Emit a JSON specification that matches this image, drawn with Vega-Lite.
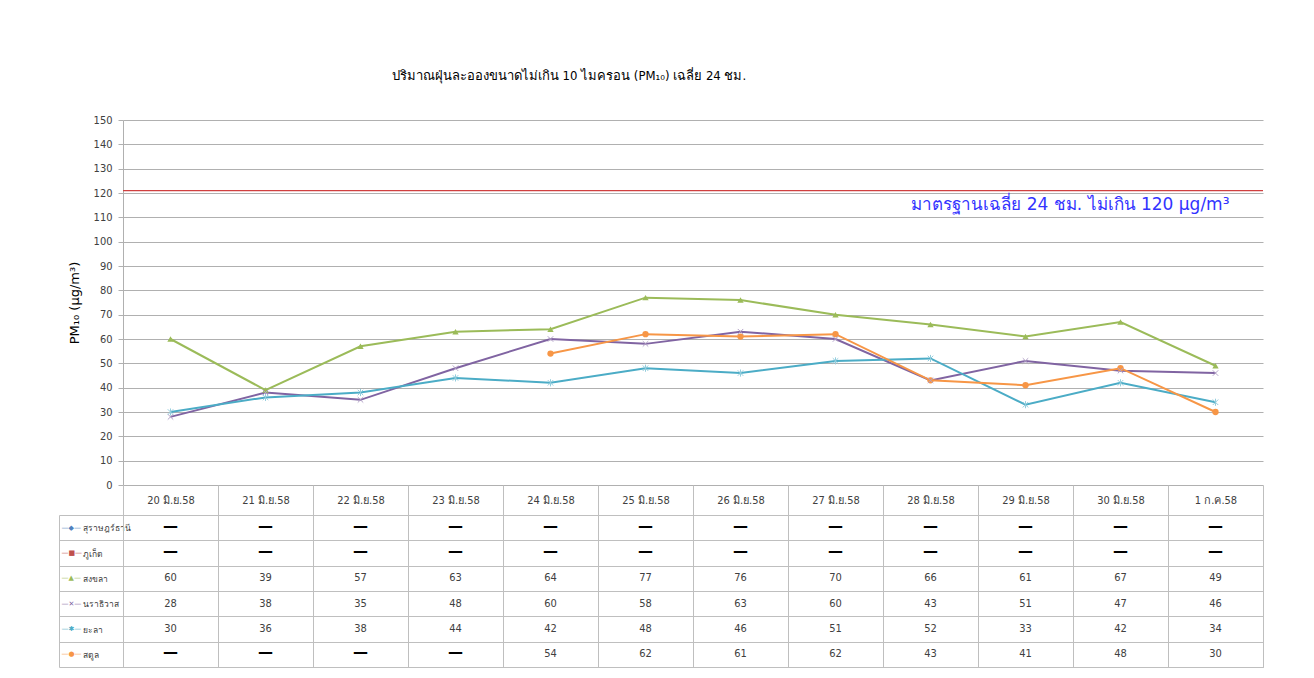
{
  "$schema": "https://vega.github.io/schema/vega-lite/v6.json",
  "background": "white",
  "padding": {"left": 58, "top": 70, "right": 52, "bottom": 8},
  "spacing": 30,
  "bounds": "flush",
  "title": {
    "text": "ปริมาณฝุ่นละอองขนาดไม่เกิน 10 ไมครอน (PM₁₀) เฉลี่ย 24 ชม.",
    "anchor": "middle",
    "dx": -92,
    "offset": 31,
    "fontSize": 13,
    "fontWeight": "normal",
    "color": "#000000",
    "font": "Liberation Sans Narrow, DejaVu Sans Condensed, sans-serif"
  },
  "datasets": {
    "pm": [
      {"s": "สุราษฎร์ธานี", "d": "20 มิ.ย.58", "v": null}, {"s": "สุราษฎร์ธานี", "d": "21 มิ.ย.58", "v": null}, {"s": "สุราษฎร์ธานี", "d": "22 มิ.ย.58", "v": null}, {"s": "สุราษฎร์ธานี", "d": "23 มิ.ย.58", "v": null}, {"s": "สุราษฎร์ธานี", "d": "24 มิ.ย.58", "v": null}, {"s": "สุราษฎร์ธานี", "d": "25 มิ.ย.58", "v": null}, {"s": "สุราษฎร์ธานี", "d": "26 มิ.ย.58", "v": null}, {"s": "สุราษฎร์ธานี", "d": "27 มิ.ย.58", "v": null}, {"s": "สุราษฎร์ธานี", "d": "28 มิ.ย.58", "v": null}, {"s": "สุราษฎร์ธานี", "d": "29 มิ.ย.58", "v": null}, {"s": "สุราษฎร์ธานี", "d": "30 มิ.ย.58", "v": null}, {"s": "สุราษฎร์ธานี", "d": "1 ก.ค.58", "v": null},
      {"s": "ภูเก็ต", "d": "20 มิ.ย.58", "v": null}, {"s": "ภูเก็ต", "d": "21 มิ.ย.58", "v": null}, {"s": "ภูเก็ต", "d": "22 มิ.ย.58", "v": null}, {"s": "ภูเก็ต", "d": "23 มิ.ย.58", "v": null}, {"s": "ภูเก็ต", "d": "24 มิ.ย.58", "v": null}, {"s": "ภูเก็ต", "d": "25 มิ.ย.58", "v": null}, {"s": "ภูเก็ต", "d": "26 มิ.ย.58", "v": null}, {"s": "ภูเก็ต", "d": "27 มิ.ย.58", "v": null}, {"s": "ภูเก็ต", "d": "28 มิ.ย.58", "v": null}, {"s": "ภูเก็ต", "d": "29 มิ.ย.58", "v": null}, {"s": "ภูเก็ต", "d": "30 มิ.ย.58", "v": null}, {"s": "ภูเก็ต", "d": "1 ก.ค.58", "v": null},
      {"s": "สงขลา", "d": "20 มิ.ย.58", "v": 60}, {"s": "สงขลา", "d": "21 มิ.ย.58", "v": 39}, {"s": "สงขลา", "d": "22 มิ.ย.58", "v": 57}, {"s": "สงขลา", "d": "23 มิ.ย.58", "v": 63}, {"s": "สงขลา", "d": "24 มิ.ย.58", "v": 64}, {"s": "สงขลา", "d": "25 มิ.ย.58", "v": 77}, {"s": "สงขลา", "d": "26 มิ.ย.58", "v": 76}, {"s": "สงขลา", "d": "27 มิ.ย.58", "v": 70}, {"s": "สงขลา", "d": "28 มิ.ย.58", "v": 66}, {"s": "สงขลา", "d": "29 มิ.ย.58", "v": 61}, {"s": "สงขลา", "d": "30 มิ.ย.58", "v": 67}, {"s": "สงขลา", "d": "1 ก.ค.58", "v": 49},
      {"s": "นราธิวาส", "d": "20 มิ.ย.58", "v": 28}, {"s": "นราธิวาส", "d": "21 มิ.ย.58", "v": 38}, {"s": "นราธิวาส", "d": "22 มิ.ย.58", "v": 35}, {"s": "นราธิวาส", "d": "23 มิ.ย.58", "v": 48}, {"s": "นราธิวาส", "d": "24 มิ.ย.58", "v": 60}, {"s": "นราธิวาส", "d": "25 มิ.ย.58", "v": 58}, {"s": "นราธิวาส", "d": "26 มิ.ย.58", "v": 63}, {"s": "นราธิวาส", "d": "27 มิ.ย.58", "v": 60}, {"s": "นราธิวาส", "d": "28 มิ.ย.58", "v": 43}, {"s": "นราธิวาส", "d": "29 มิ.ย.58", "v": 51}, {"s": "นราธิวาส", "d": "30 มิ.ย.58", "v": 47}, {"s": "นราธิวาส", "d": "1 ก.ค.58", "v": 46},
      {"s": "ยะลา", "d": "20 มิ.ย.58", "v": 30}, {"s": "ยะลา", "d": "21 มิ.ย.58", "v": 36}, {"s": "ยะลา", "d": "22 มิ.ย.58", "v": 38}, {"s": "ยะลา", "d": "23 มิ.ย.58", "v": 44}, {"s": "ยะลา", "d": "24 มิ.ย.58", "v": 42}, {"s": "ยะลา", "d": "25 มิ.ย.58", "v": 48}, {"s": "ยะลา", "d": "26 มิ.ย.58", "v": 46}, {"s": "ยะลา", "d": "27 มิ.ย.58", "v": 51}, {"s": "ยะลา", "d": "28 มิ.ย.58", "v": 52}, {"s": "ยะลา", "d": "29 มิ.ย.58", "v": 33}, {"s": "ยะลา", "d": "30 มิ.ย.58", "v": 42}, {"s": "ยะลา", "d": "1 ก.ค.58", "v": 34},
      {"s": "สตูล", "d": "20 มิ.ย.58", "v": null}, {"s": "สตูล", "d": "21 มิ.ย.58", "v": null}, {"s": "สตูล", "d": "22 มิ.ย.58", "v": null}, {"s": "สตูล", "d": "23 มิ.ย.58", "v": null}, {"s": "สตูล", "d": "24 มิ.ย.58", "v": 54}, {"s": "สตูล", "d": "25 มิ.ย.58", "v": 62}, {"s": "สตูล", "d": "26 มิ.ย.58", "v": 61}, {"s": "สตูล", "d": "27 มิ.ย.58", "v": 62}, {"s": "สตูล", "d": "28 มิ.ย.58", "v": 43}, {"s": "สตูล", "d": "29 มิ.ย.58", "v": 41}, {"s": "สตูล", "d": "30 มิ.ย.58", "v": 48}, {"s": "สตูล", "d": "1 ก.ค.58", "v": 30}
    ]
  },
  "config": {
    "font": "Liberation Sans Narrow, DejaVu Sans Condensed, sans-serif",
    "axis": {"labelColor": "#404040", "labelFontSize": 11, "labelFont": "Liberation Sans Narrow, DejaVu Sans Condensed, sans-serif"},
    "axisQuantitative": {"tickCount": 20, "labelOverlap": false, "labelFlush": false}
  },
  "vconcat": [
    {
      "width": 1140,
      "height": 365,
      "view": {"stroke": null},
      "layer": [
        {
          "data": {"name": "pm"},
          "transform": [{"filter": "datum.v != null"}],
          "mark": {"type": "line", "strokeWidth": 2},
          "encoding": {
            "x": {
              "field": "d", "type": "ordinal",
              "scale": {"type": "point", "padding": 0.5, "domain": ["20 มิ.ย.58", "21 มิ.ย.58", "22 มิ.ย.58", "23 มิ.ย.58", "24 มิ.ย.58", "25 มิ.ย.58", "26 มิ.ย.58", "27 มิ.ย.58", "28 มิ.ย.58", "29 มิ.ย.58", "30 มิ.ย.58", "1 ก.ค.58"]},
              "axis": null
            },
            "y": {
              "field": "v", "type": "quantitative",
              "scale": {"domain": [0, 150], "nice": false},
              "axis": {
                "title": "PM₁₀ (μg/m³)", "titleFont": "DejaVu Sans", "titleFontSize": 13, "titleFontWeight": "normal", "titleColor": "#000000", "titlePadding": 12,
                "values": [0, 10, 20, 30, 40, 50, 60, 70, 80, 90, 100, 110, 120, 130, 140, 150], "tickCount": 20, "labelOverlap": false, "labelFlush": false,
                "grid": true, "gridColor": "#B0B0B0", "domainColor": "#B0B0B0", "tickColor": "#B0B0B0", "tickSize": 5, "labelPadding": 6
              }
            },
            "color": {
              "field": "s", "type": "nominal", "legend": null,
              "scale": {
                "domain": ["สุราษฎร์ธานี", "ภูเก็ต", "สงขลา", "นราธิวาส", "ยะลา", "สตูล"],
                "range": ["#4F81BD", "#C0504D", "#9BBB59", "#8064A2", "#4BACC6", "#F79646"]
              }
            },
            "detail": {"field": "s"}
          }
        },
        {
          "data": {"values": [{}]},
          "mark": {"type": "rule", "stroke": "#D04040", "strokeWidth": 1.2},
          "encoding": {
            "y": {
              "datum": 121, "type": "quantitative",
              "axis": {
                "title": "PM₁₀ (μg/m³)", "titleFont": "DejaVu Sans", "titleFontSize": 13, "titleFontWeight": "normal", "titleColor": "#000000", "titlePadding": 12,
                "values": [0, 10, 20, 30, 40, 50, 60, 70, 80, 90, 100, 110, 120, 130, 140, 150], "tickCount": 20, "labelOverlap": false, "labelFlush": false,
                "grid": true, "gridColor": "#B0B0B0", "domainColor": "#B0B0B0", "tickColor": "#B0B0B0", "tickSize": 5, "labelPadding": 6
              }
            }
          }
        },
        {
          "data": {"name": "pm"},
          "transform": [{"filter": "datum.v != null"}, {"filter": {"field": "s", "oneOf": ["สงขลา", "สตูล"]}}],
          "mark": {"type": "point", "filled": true, "size": 40, "opacity": 1},
          "encoding": {
            "x": {"field": "d", "type": "ordinal"},
            "y": {
              "field": "v", "type": "quantitative",
              "axis": {
                "title": "PM₁₀ (μg/m³)", "titleFont": "DejaVu Sans", "titleFontSize": 13, "titleFontWeight": "normal", "titleColor": "#000000", "titlePadding": 12,
                "values": [0, 10, 20, 30, 40, 50, 60, 70, 80, 90, 100, 110, 120, 130, 140, 150], "tickCount": 20, "labelOverlap": false, "labelFlush": false,
                "grid": true, "gridColor": "#B0B0B0", "domainColor": "#B0B0B0", "tickColor": "#B0B0B0", "tickSize": 5, "labelPadding": 6
              }
            },
            "color": {"field": "s", "type": "nominal"},
            "shape": {"field": "s", "type": "nominal", "legend": null, "scale": {"domain": ["สงขลา", "สตูล"], "range": ["triangle-up", "circle"]}}
          }
        },
        {
          "data": {"name": "pm"},
          "transform": [{"filter": "datum.v != null"}, {"filter": {"field": "s", "oneOf": ["นราธิวาส", "ยะลา"]}}],
          "mark": {"type": "point", "filled": false, "size": 30, "strokeWidth": 1, "opacity": 1},
          "encoding": {
            "x": {"field": "d", "type": "ordinal"},
            "y": {
              "field": "v", "type": "quantitative",
              "axis": {
                "title": "PM₁₀ (μg/m³)", "titleFont": "DejaVu Sans", "titleFontSize": 13, "titleFontWeight": "normal", "titleColor": "#000000", "titlePadding": 12,
                "values": [0, 10, 20, 30, 40, 50, 60, 70, 80, 90, 100, 110, 120, 130, 140, 150], "tickCount": 20, "labelOverlap": false, "labelFlush": false,
                "grid": true, "gridColor": "#B0B0B0", "domainColor": "#B0B0B0", "tickColor": "#B0B0B0", "tickSize": 5, "labelPadding": 6
              }
            },
            "stroke": {"condition": {"test": "datum.s === 'นราธิวาส'", "value": "#B3A2C7"}, "value": "#93CDDD"},
            "shape": {"condition": {"test": "datum.s === 'นราธิวาส'", "value": "M-1,-1L1,1M-1,1L1,-1"}, "value": "M-1,-1L1,1M-1,1L1,-1M0,-1.3L0,1.3"}
          }
        },
        {
          "data": {"values": [{}]},
          "mark": {"type": "text", "align": "right", "baseline": "middle", "dx": 14, "fontSize": 17, "color": "#3333FF", "font": "DejaVu Sans"},
          "encoding": {
            "x": {"datum": "1 ก.ค.58", "type": "ordinal"},
            "y": {
              "datum": 115, "type": "quantitative",
              "axis": {
                "title": "PM₁₀ (μg/m³)", "titleFont": "DejaVu Sans", "titleFontSize": 13, "titleFontWeight": "normal", "titleColor": "#000000", "titlePadding": 12,
                "values": [0, 10, 20, 30, 40, 50, 60, 70, 80, 90, 100, 110, 120, 130, 140, 150], "tickCount": 20, "labelOverlap": false, "labelFlush": false,
                "grid": true, "gridColor": "#B0B0B0", "domainColor": "#B0B0B0", "tickColor": "#B0B0B0", "tickSize": 5, "labelPadding": 6
              }
            },
            "text": {"value": "มาตรฐานเฉลี่ย 24 ชม. ไม่เกิน 120 μg/m³"}
          }
        }
      ]
    },
    {
      "width": 1140,
      "height": 152,
      "view": {"stroke": "#BFBFBF"},
      "data": {"name": "pm"},
      "resolve": {"axis": {"y": "independent"}},
      "layer": [
        {
          "transform": [{"filter": "datum.v != null"}],
          "mark": {"type": "text", "fontSize": 11, "color": "#404040", "baseline": "middle"},
          "encoding": {
            "x": {
              "field": "d", "type": "ordinal",
              "scale": {"type": "band", "paddingInner": 0, "paddingOuter": 0, "domain": ["20 มิ.ย.58", "21 มิ.ย.58", "22 มิ.ย.58", "23 มิ.ย.58", "24 มิ.ย.58", "25 มิ.ย.58", "26 มิ.ย.58", "27 มิ.ย.58", "28 มิ.ย.58", "29 มิ.ย.58", "30 มิ.ย.58", "1 ก.ค.58"]},
              "axis": {
                "orient": "top", "title": null, "labelAngle": 0,
                "tickBand": "extent", "ticks": true, "tickSize": 30, "tickColor": "#BFBFBF",
                "grid": true, "gridColor": "#BFBFBF", "domainColor": "#BFBFBF",
                "labelPadding": -15, "labelBaseline": "middle"
              }
            },
            "y": {
              "field": "s", "type": "ordinal",
              "scale": {"type": "band", "paddingInner": 0, "paddingOuter": 0, "domain": ["สุราษฎร์ธานี", "ภูเก็ต", "สงขลา", "นราธิวาส", "ยะลา", "สตูล"]},
              "axis": {
                "title": null, "orient": "left",
                "tickBand": "extent", "ticks": true, "tickSize": 64, "tickColor": "#BFBFBF",
                "grid": true, "gridColor": "#BFBFBF", "domainColor": "#BFBFBF",
                "labelAlign": "left", "labelPadding": -23, "labelBaseline": "middle",
                "labelFontSize": 8.5, "labelLimit": 60
              }
            },
            "text": {"field": "v", "type": "quantitative"}
          }
        },
        {
          "transform": [{"filter": "datum.v == null"}],
          "mark": {"type": "text", "fontSize": 15, "fontWeight": "bold", "color": "#000000", "baseline": "middle", "dy": -2, "font": "DejaVu Sans"},
          "encoding": {
            "x": {"field": "d", "type": "ordinal"},
            "y": {
              "field": "s", "type": "ordinal",
              "axis": {
                "title": null, "orient": "left", "offset": 64,
                "ticks": false, "grid": false, "domain": true, "domainColor": "#BFBFBF",
                "labelAlign": "left", "labelPadding": -2, "labelBaseline": "middle",
                "labelFont": "DejaVu Sans", "labelFontSize": 7,
                "labelExpr": "datum.value === 'สุราษฎร์ธานี' ? '—◆—' : datum.value === 'ภูเก็ต' ? '—■—' : datum.value === 'สงขลา' ? '—▲—' : datum.value === 'นราธิวาส' ? '—✕—' : datum.value === 'ยะลา' ? '—✱—' : '—●—'",
                "labelColor": {
                  "condition": [
                    {"test": "datum.value === 'สุราษฎร์ธานี'", "value": "#4F81BD"},
                    {"test": "datum.value === 'ภูเก็ต'", "value": "#C0504D"},
                    {"test": "datum.value === 'สงขลา'", "value": "#9BBB59"},
                    {"test": "datum.value === 'นราธิวาส'", "value": "#8064A2"},
                    {"test": "datum.value === 'ยะลา'", "value": "#4BACC6"}
                  ],
                  "value": "#F79646"
                }
              }
            },
            "text": {"value": "—"}
          }
        }
      ]
    }
  ]
}
